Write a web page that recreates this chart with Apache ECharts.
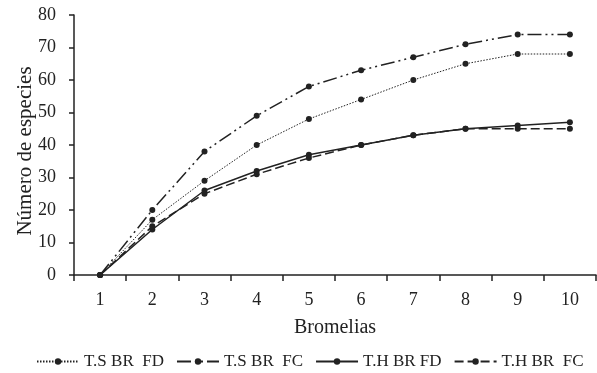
<!DOCTYPE html>
<html><head><meta charset="utf-8">
<script src="https://cdn.jsdelivr.net/npm/echarts@6/dist/echarts.min.js"></script>
<style>html,body{margin:0;padding:0;background:#fff}#c{width:597px;height:373px}</style>
</head><body><div id="c"></div>
<script>
const categories = ['1','2','3','4','5','6','7','8','9','10'];
const tsFD = [0,17,29,40,48,54,60,65,68,68];
const tsFC = [0,20,38,49,58,63,67,71,74,74];
const thFD = [0,14,26,32,37,40,43,45,46,47];
const thFC = [0,15,25,31,36,40,43,45,45,45];
const seriesNames = ['T.S BR  FD','T.S BR  FC','T.H BR FD','T.H BR  FC'];
const font = 'Liberation Serif';
const col = '#222';
const styles = [
  {type:[1.5,1.5], width:1},
  {type:[14,4,2,4,2,4], width:1.5},
  {type:'solid', width:1.5},
  {type:[9,4], width:1.5}
];
const datasets = [tsFD, tsFC, thFD, thFC];
const chart = echarts.init(document.getElementById('c'));
chart.setOption({
  animation:false,
  textStyle:{fontFamily:font,color:col},
  grid:{left:74,right:1,top:15,bottom:98},
  legend:{
    bottom:3,left:36,right:0,itemGap:12,itemWidth:42,itemHeight:8,padding:0,
    textStyle:{fontFamily:font,fontSize:17,color:col},
    data:seriesNames
  },
  xAxis:{
    type:'category',data:categories,boundaryGap:true,
    name:'Bromelias',nameLocation:'middle',nameGap:43,nameMoveOverlap:false,
    nameTextStyle:{fontFamily:font,fontSize:20,color:col},
    axisLine:{lineStyle:{color:col,width:1.5}},
    axisTick:{show:true,length:6,lineStyle:{color:col,width:1.5}},
    axisLabel:{fontFamily:font,fontSize:18,color:col,margin:16},
    splitLine:{show:false}
  },
  yAxis:{
    type:'value',min:0,max:80,interval:10,
    name:'Número de especies',nameLocation:'middle',nameGap:38,nameMoveOverlap:false,
    nameTextStyle:{fontFamily:font,fontSize:21,color:col,padding:[0,12,0,0]},
    axisLine:{show:true,lineStyle:{color:col,width:1.5}},
    axisTick:{show:true,length:5,lineStyle:{color:col,width:1.5}},
    axisLabel:{fontFamily:font,fontSize:18,color:col,margin:18},
    splitLine:{show:false}
  },
  series: datasets.map((d,i)=>({
    name:seriesNames[i],type:'line',data:d,
    symbol:'circle',symbolSize:6,
    itemStyle:{color:col},
    lineStyle:{color:col,width:styles[i].width,type:styles[i].type}
  }))
});
</script></body></html>
